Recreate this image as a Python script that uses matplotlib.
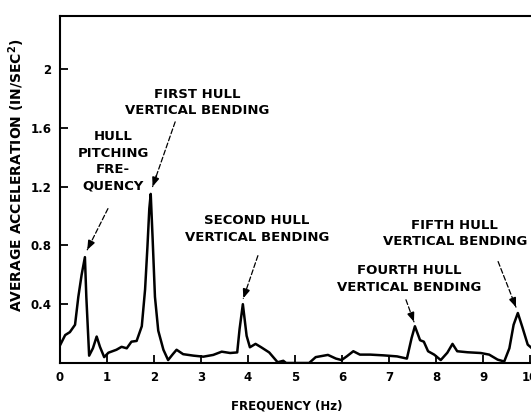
import matplotlib
matplotlib.use("Agg")
import matplotlib.pyplot as plt
import numpy as np

# Average acceleration spectrum of the hull
freq_hz = [0.00, 0.11, 0.21, 0.32, 0.39, 0.46, 0.53, 0.56, 0.59, 0.62, 0.70, 0.78,
           0.85, 0.94, 1.03, 1.20, 1.31, 1.42, 1.52, 1.63, 1.74, 1.81, 1.86, 1.90,
           1.93, 1.97, 2.02, 2.09, 2.20, 2.30, 2.40, 2.48, 2.62, 2.84, 3.05, 3.26,
           3.44, 3.62, 3.77, 3.82, 3.89, 3.97, 4.04, 4.16, 4.28, 4.45, 4.63, 4.75,
           4.81, 5.00, 5.30, 5.44, 5.70, 5.87, 5.99, 6.10, 6.24, 6.38, 6.60, 6.88,
           7.17, 7.38, 7.48, 7.55, 7.66, 7.74, 7.83, 7.96, 8.10, 8.24, 8.35, 8.45,
           8.67, 8.95, 9.13, 9.31, 9.45, 9.56, 9.65, 9.74, 9.84, 9.95, 10.04]
accel = [0.12, 0.19, 0.21, 0.26, 0.45, 0.60, 0.72, 0.45, 0.25, 0.05, 0.10, 0.18,
         0.11, 0.04, 0.07, 0.09, 0.11, 0.10, 0.145, 0.15, 0.25, 0.50, 0.79, 1.05,
         1.15, 0.85, 0.45, 0.22, 0.09, 0.02, 0.06, 0.09, 0.06, 0.05, 0.043, 0.055,
         0.077, 0.068, 0.072, 0.23, 0.40, 0.185, 0.107, 0.13, 0.107, 0.072, 0.005, 0.015,
         0.0, 0.0, 0.0, 0.04, 0.055, 0.03, 0.02, 0.045, 0.08, 0.057, 0.057, 0.052,
         0.045, 0.03, 0.17, 0.25, 0.155, 0.145, 0.08, 0.057, 0.02, 0.07, 0.13, 0.08,
         0.073, 0.068, 0.057, 0.023, 0.01, 0.10, 0.26, 0.34, 0.24, 0.125, 0.10]

x_ticks = [0, 1, 2, 3, 4, 5, 6, 7, 8, 9, 10]
y_ticks = [0.4, 0.8, 1.2, 1.6, 2.0]
y_tick_labels = ["0.4", "0.8", "1.2", "1.6", "2"]

# (label, text position, arrow start, arrow tip)
annotations = [
    ("HULL\nPITCHING\nFRE-\nQUENCY", (1.13, 1.37), (1.02, 1.05), (0.58, 0.77)),
    ("FIRST HULL\nVERTICAL BENDING", (2.91, 1.77), (2.45, 1.64), (1.97, 1.20)),
    ("SECOND HULL\nVERTICAL BENDING", (4.19, 0.91), (4.21, 0.73), (3.90, 0.44)),
    ("FOURTH HULL\nVERTICAL BENDING", (7.43, 0.57), (7.36, 0.43), (7.53, 0.28)),
    ("FIFTH HULL\nVERTICAL BENDING", (8.40, 0.88), (9.32, 0.69), (9.70, 0.38)),
]

plt.rcParams["font.family"] = ["DejaVu Sans"]
plt.rcParams["font.weight"] = "bold"

fig = plt.figure(figsize=(5.31, 4.18), dpi=100)
ax = fig.add_axes([60 / 531, 55 / 418, 471 / 531, 347 / 418])

ax.plot(freq_hz, accel, color="black", lw=1.8, solid_joinstyle="round")

ax.set_xlim(0, 10.02)
ax.set_ylim(0, 2.36)
ax.set_xticks(x_ticks)
ax.set_xticklabels([str(t) for t in x_ticks])
ax.set_yticks(y_ticks)
ax.set_yticklabels(y_tick_labels)
ax.tick_params(direction="in", length=6, width=1.3, labelsize=8.5, pad=6)
for lab in ax.get_xticklabels() + ax.get_yticklabels():
    lab.set_fontweight("bold")

ax.spines["right"].set_visible(False)
for side in ("left", "bottom", "top"):
    ax.spines[side].set_linewidth(1.5)

ax.set_xlabel("FREQUENCY (Hz)", fontsize=8.5, fontweight="bold")
ax.xaxis.set_label_coords(0.482, -0.105)
ax.set_ylabel("AVERAGE ACCELERATION (IN/SEC$^\\mathbf{2}$)", fontsize=10,
              fontweight="bold")
ax.yaxis.set_label_coords(-0.07, 0.54)

for label, txt_xy, start, tip in annotations:
    ax.text(txt_xy[0], txt_xy[1], label, ha="center", va="center",
            fontsize=9.5, fontweight="bold", linespacing=1.35)
    # dashed shaft
    ax.annotate("", xy=tip, xytext=start,
                arrowprops=dict(arrowstyle="-", lw=0.9, color="black",
                                linestyle=(0, (4, 2)), shrinkA=0, shrinkB=0))
    # solid head at the tip
    hx = start[0] + 0.25 * (tip[0] - start[0])
    hy = start[1] + 0.25 * (tip[1] - start[1])
    head_start = (tip[0] + 0.22 * (hx - tip[0]), tip[1] + 0.22 * (hy - tip[1]))
    ax.annotate("", xy=tip, xytext=head_start,
                arrowprops=dict(arrowstyle="-|>,head_length=0.5,head_width=0.2",
                                lw=1.2, color="black", shrinkA=0, shrinkB=0))

fig.savefig("out.png", dpi=100)
